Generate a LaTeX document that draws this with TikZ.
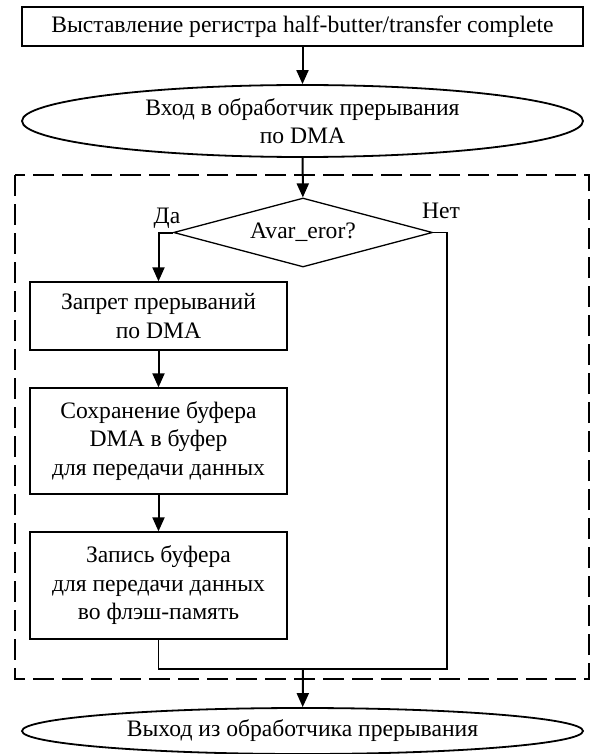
\documentclass[tikz,border=0pt]{standalone}
\usepackage{fontspec}
\setmainfont{Liberation Serif}
\usetikzlibrary{arrows.meta,positioning,shapes.geometric}
\tikzset{
  blk/.style={draw,rectangle,line width=1.3pt,align=center,inner sep=2pt},
  ovlblk/.style={draw,ellipse,line width=1.8pt,align=center,inner sep=0pt},
  decblk/.style={draw,diamond,aspect=3.75,line width=1.3pt,align=center,inner sep=0pt},
  arr/.style={-{Triangle[length=14pt,width=12pt]},line width=2pt},
  lnk/.style={line width=1.3pt},
  grpbox/.style={draw,line width=2.4pt,dash pattern=on 21pt off 8pt},
  lbl/.style={inner sep=0pt}
}
\begin{document}
\begin{tikzpicture}[x=1pt,y=-1pt,font=\fontsize{23.6}{28.5}\selectfont]
  \useasboundingbox (0,0) rectangle (590,754);
  % Dashed group
  \draw[grpbox] (15,175) rectangle (589,679);

  % Top block and entry
  \node[blk, minimum width=561pt, minimum height=39pt] (reg) at (302.5,26.5) {Выставление регистра half-butter/transfer complete};
  \node[ovlblk, minimum width=561pt, minimum height=72pt] (enter) at (302.5,121) {Вход в обработчик прерывания\\по DMA};

  % Decision
  \node[decblk, minimum width=259pt, minimum height=69pt] (dec) at (303,232.5) {Avar\_eror?};
  \node[lbl] (yes) at (167,218) {Да};
  \node[lbl] (no) at (441,211) {Нет};

  % Yes branch
  \node[blk, minimum width=257pt, minimum height=68pt] (off) at (158.5,316) {Запрет прерываний\\по DMA};
  \node[blk, minimum width=257pt, minimum height=106pt] (save) at (158.5,441) {Сохранение буфера\\DMA в буфер\\для передачи данных};
  \node[blk, minimum width=257pt, minimum height=107pt] (flash) at (158.5,585.5) {Запись буфера\\для передачи данных\\во флэш-память};

  % Exit
  \node[ovlblk, minimum width=561pt, minimum height=46pt] (exit) at (302.5,731) {Выход из обработчика прерывания};

  \coordinate (jn) at (447,669);
  \coordinate (mid) at (303,669);

  % Connections
  \draw[arr] (reg) -- (enter);
  \draw[arr] (enter) -- (dec);
  \draw[arr] (dec.west) -| (off.north);
  \draw[arr] (off) -- (save);
  \draw[arr] (save) -- (flash);
  \draw[lnk] (dec.east) -| (jn) -| (flash.south);
  \draw[arr] (mid) -- (exit);
\end{tikzpicture}
\end{document}
